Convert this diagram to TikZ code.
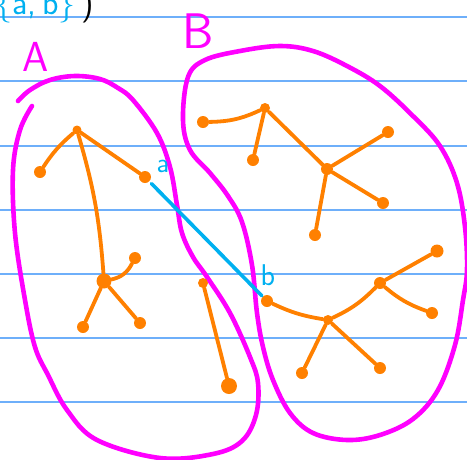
\documentclass[tikz,border=0pt]{standalone}
\usepackage{amsmath}
\usepackage{xcolor}
\definecolor{pen}{RGB}{255,128,0}
\definecolor{hl}{RGB}{255,0,255}
\definecolor{sky}{RGB}{0,176,240}
\definecolor{ruled}{RGB}{110,175,250}

\begin{document}
\begin{tikzpicture}[x=1pt,y=-1pt,line cap=round,line join=round,
    dot/.style={circle,fill=pen,inner sep=0pt,minimum size=12pt},
    br/.style={draw=pen,line width=3.8pt},
    blob/.style={draw=hl,line width=4.6pt}]
  \useasboundingbox (0,0) rectangle (467,459);
  \foreach \y in {17,81,146,210,274,338,402}
    \draw[ruled,line width=2pt] (0,\y) -- (467,\y);
  % set {a,b}
  \node[anchor=base west,text=sky,font=\sffamily\fontsize{34}{34}\selectfont]
    (s) at (-8,14) {\{a,\,b\}\,\textcolor{black}{)}};
  % the two parts
  \node[text=hl,font=\sffamily\fontsize{42}{42}\selectfont] (A) at (36,57) {A};
  \node[text=hl,font=\sffamily\fontsize{50}{50}\selectfont] (B) at (198,31) {B};
  \draw[blob] plot[smooth,tension=0.6] coordinates {(32,106) (20,130) (13,170)
    (15,233) (25,300) (35,347) (48,375) (67,410) (97,440) (160,458) (213,454)
    (242,441) (256,415) (258,383) (250,357) (230,313) (207,277) (193,257)
    (182,233) (177,205) (170,167) (157,133) (133,100) (118,88) (100,79) (75,76)
    (50,80) (30,90) (18,101)};
  \draw[blob] plot[smooth cycle,tension=0.6] coordinates {(188,77) (205,60)
    (240,51) (280,46) (313,51) (347,66) (380,86) (413,116) (440,146) (457,183)
    (465,227) (467,270) (463,300) (455,345) (438,390) (413,419) (380,435)
    (347,440) (313,433) (290,413) (273,380) (263,347) (257,313) (252,265)
    (242,222) (228,196) (210,173) (190,150) (183,120)};
  % tree in A
  \node[dot,minimum size=9pt] (r) at (77,130) {};
  \node[dot] (r1) at (40,172) {}; \node[dot] (u) at (145,177) {};
  \node[dot,minimum size=15pt] (n) at (104,281) {};
  \node[dot] (n1) at (135,258) {}; \node[dot] (n2) at (83,327) {};
  \node[dot] (n3) at (140,323) {};
  \draw[br] (r) to[bend right=8] (r1); \draw[br] (r) -- (u);
  \draw[br] (r) to[bend left=6] (n); \draw[br] (n) to[bend right=25] (n1);
  \draw[br] (n) -- (n2); \draw[br] (n) -- (n3);
  % upper tree in B
  \node[dot,minimum size=10pt] (m) at (265,108) {};
  \node[dot] (m1) at (203,122) {}; \node[dot] (m2) at (253,160) {};
  \node[dot,minimum size=12pt] (k) at (327,169) {};
  \node[dot] (k1) at (388,132) {}; \node[dot] (k2) at (383,203) {};
  \node[dot] (k3) at (315,235) {};
  \draw[br] (m) to[bend left=12] (m1); \draw[br] (m) -- (m2);
  \draw[br] (m) -- (k); \draw[br] (k) -- (k1); \draw[br] (k) -- (k2);
  \draw[br] (k) -- (k3);
  % lower tree in B
  \node[dot] (v) at (267,301) {};
  \node[dot,minimum size=10pt] (p) at (328,320) {};
  \node[dot] (q) at (380,283) {};
  \node[dot,minimum size=13pt] (q1) at (437,251) {};
  \node[dot] (q2) at (432,313) {};
  \node[dot] (p1) at (302,373) {}; \node[dot] (p2) at (380,368) {};
  \draw[br] (v) to[bend right=8] (p); \draw[br] (p) to[bend right=10] (q);
  \draw[br] (q) -- (q1); \draw[br] (q) to[bend right=10] (q2);
  \draw[br] (p) -- (p1); \draw[br] (p) -- (p2);
  % lone edge
  \node[dot,minimum size=10pt] (w) at (203,283) {};
  \node[dot,minimum size=16pt] (w1) at (229,386) {};
  \draw[br] (w) -- (w1);
  % edge a--b
  \node[text=sky,font=\sffamily\fontsize{28}{28}\selectfont] (la) at (163,166) {a};
  \node[text=sky,font=\sffamily\fontsize{30}{30}\selectfont] (lb) at (268,275) {b};
  \draw[sky,line width=3.6pt,shorten <=3pt,shorten >=1pt] (u) -- (v);
\end{tikzpicture}
\end{document}
